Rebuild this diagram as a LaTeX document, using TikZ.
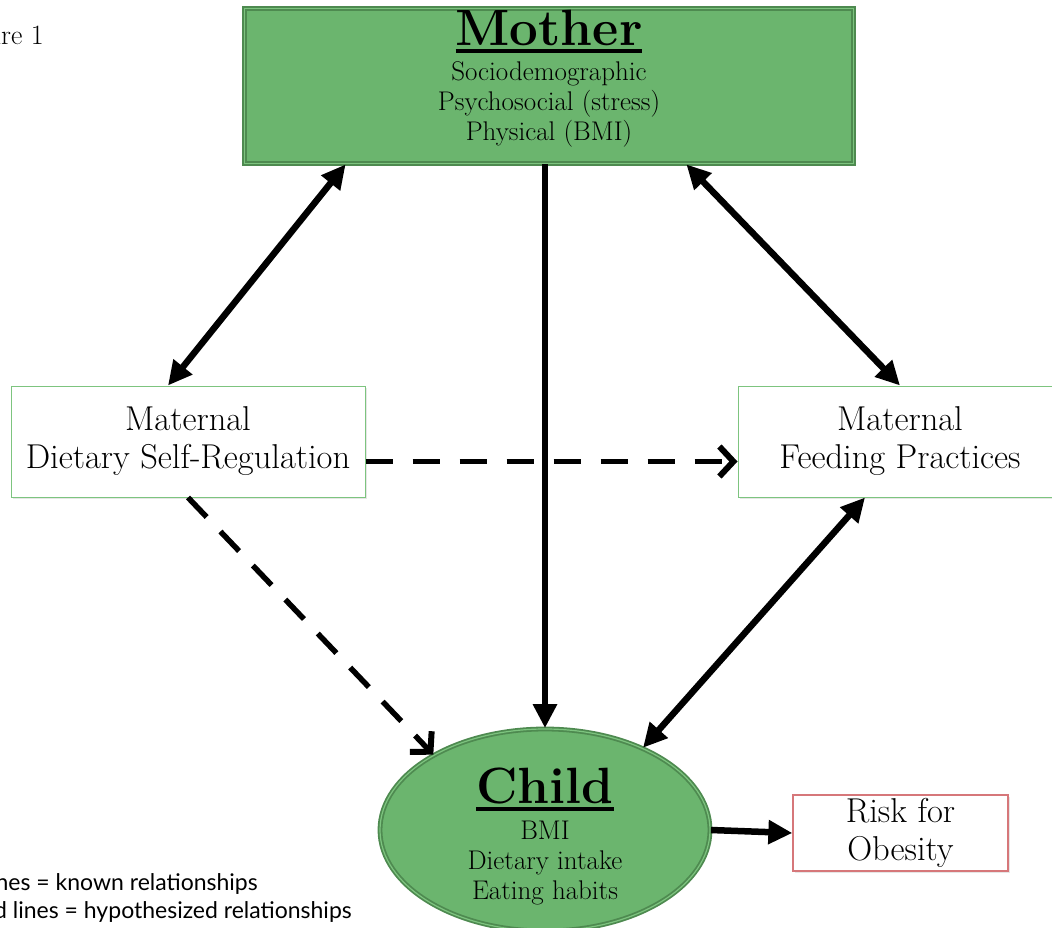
\documentclass[tikz,border=0pt]{standalone}
\usepackage{fontspec}
\newfontfamily\legendfont{Lato}
\usetikzlibrary{arrows.meta,shapes.geometric,shadows}
\definecolor{boxgreen}{HTML}{6BB56E}
\definecolor{edgegreen}{HTML}{4E8A50}
\definecolor{linegreen}{HTML}{7DC47F}
\definecolor{riskred}{HTML}{D6777A}
\newcommand{\ulhead}[1]{\vtop{\hbox{#1}\kern3pt\hrule height 4pt}}

\begin{document}
\begin{tikzpicture}[x=1pt,y=-1pt, %Figure 1
    >={Triangle[length=24pt,width=23pt]},
    greenfill/.style={fill=boxgreen, draw=edgegreen, line width=1.8pt,
        double=linegreen, double distance=1.2pt},
    motherbox/.style={greenfill, rectangle, minimum width=609pt, minimum height=155pt},
    childbell/.style={greenfill, ellipse, minimum width=330pt, minimum height=202pt},
    headtext/.style={inner sep=0pt, font=\fontsize{51}{54}\selectfont\bfseries},
    subtext/.style={align=center, font=\fontsize{27}{30}\selectfont},
    factorbox/.style={rectangle, draw=linegreen, fill=white, line width=1pt,
        align=center, minimum width=354pt, minimum height=111pt,
        font=\fontsize{34.5}{38}\selectfont,
        drop shadow={shadow xshift=2pt, shadow yshift=-2pt, opacity=0.2}},
    riskbox/.style={factorbox, draw=riskred, line width=1.3pt,
        minimum width=215pt, minimum height=72pt},
    legend/.style={inner sep=0pt, font=\legendfont\fontsize{23}{28}\selectfont},
    known/.style={line width=6.5pt},
    guess/.style={line width=5.5pt, dash pattern=on 27pt off 20pt,
        -{Straight Barb[length=14pt,width=30pt,line width=6pt]}}]

    \useasboundingbox (0,0) rectangle (1052,928);

    \node[motherbox] (mother) at (549,86) {};
    \node[headtext, anchor=base] (mothertitle) at (549,46) {\ulhead{Mother}};
    \node[subtext] (motherlist) at (549,104) {Sociodemographic\\Psychosocial (stress)\\Physical (BMI)};

    \node[factorbox] (dsr) at (188,441.5) {Maternal\\Dietary Self-Regulation};
    \node[factorbox, minimum width=324pt] (mfp) at (900,441.5) {Maternal\\Feeding Practices};

    \node[childbell] (child) at (545,830) {};
    \node[headtext, anchor=base] (childtitle) at (545,803) {\ulhead{Child}};
    \node[subtext] (childlist) at (545,863) {BMI\\Dietary intake\\Eating habits};

    \node[riskbox] (risk) at (900.5,833) {Risk for\\Obesity};

    \node[anchor=base east, inner sep=0pt, font=\fontsize{28}{32}\selectfont] (figlabel) at (44,45) {Figure 1};
    \node[legend, anchor=base east] (legendsolid) at (258,890) {Solid lines = known relationships};
    \node[legend, anchor=base east] (legenddash) at (352,918) {Dashed lines = hypothesized relationships};

    \draw[known, <->] ([xshift=102pt]mother.south west) -- ([xshift=-20pt]dsr.north);
    \draw[known, <->] ([xshift=-168pt]mother.south east) -- (mfp.north);
    \draw[known, ->] (mother.south -| child.north) -- (child.north);
    \draw[known, <->] ([xshift=-35pt]mfp.south) -- (child.40);
    \draw[known, ->] (child.east) -- (risk.west);

    \draw[guess] ([yshift=-20pt]dsr.east) -- ([yshift=-20pt]mfp.west);
    \draw[guess] (dsr.south) -- (child.146);
\end{tikzpicture}
\end{document}
